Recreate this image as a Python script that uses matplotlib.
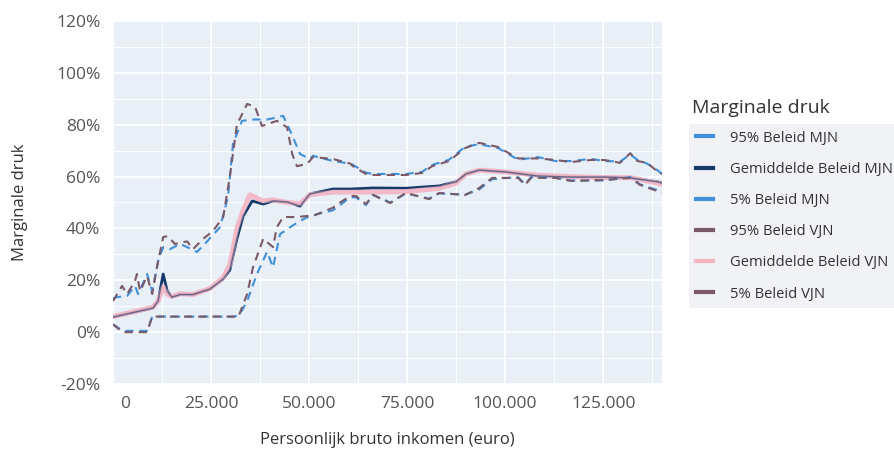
import matplotlib
matplotlib.use("Agg")
import matplotlib.pyplot as plt
import matplotlib.ticker as mticker
from matplotlib.lines import Line2D
import matplotlib.transforms as mtransforms

plt.rcParams['font.family'] = ['Open Sans', 'DejaVu Sans']

# data (income in euro, marginal pressure in %)
x_p95_vjn = [0, 2300, 3600, 5600, 6100, 6900, 8700, 10000, 11200, 12800, 14000, 15800,
             18900, 20400, 23000, 25500, 28100, 29800, 31600, 34200, 36200, 38000, 41800,
             44400, 45700, 46900, 49500, 51000, 56100, 60500, 61200, 64500, 66300, 74700,
             78800, 81400, 85700, 89800, 93400, 98200, 103300, 108400, 112800, 116800,
             121900, 125300, 129300, 131900, 133700, 136200, 138800, 140000]
y_p95_vjn = [12, 17.8, 14.7, 19.7, 22.4, 15.8, 21.6, 14.7, 25, 36.7, 37, 34,
             35, 32, 36, 39, 44.4, 60, 80, 88, 87, 79.5, 81.5,
             79, 68.7, 64, 64.9, 67.5, 66.8, 65, 64, 61, 60.6, 60.6,
             61.4, 64, 66, 71, 73, 71.4, 67, 67, 66.4, 65.6,
             66.4, 66.4, 65.3, 69, 66, 65.3, 62, 61]

x_p95_mjn = [0, 1000, 3600, 5600, 6400, 8700, 10000, 11500, 12800, 14500, 17100, 18900,
             21400, 24000, 27300, 29300, 30600, 32900, 35700, 39300, 43400, 45200, 47700,
             50200, 51000, 56100, 60500, 61200, 64500, 66300, 74700, 78800, 81400, 85700,
             89800, 93400, 98200, 103300, 108400, 112800, 116800, 121900, 125300, 129300,
             131900, 133700, 136200, 138800, 140000]
y_p95_mjn = [13, 13.5, 14, 17.8, 14.7, 22.4, 15.8, 27.4, 32.8, 32, 34, 32.8,
             30.9, 35, 40.5, 52, 72.6, 81.5, 82, 82, 83.4, 77.6, 68.7,
             66.8, 68, 66, 65, 64.5, 61.5, 61, 61, 61.8, 64.5, 66.5,
             71.5, 72.5, 71, 66.5, 67.5, 66, 66, 66.8, 66, 65.8,
             68.5, 66.5, 65, 62.5, 61]

x_mean_mjn = [0, 10200, 11500, 12800, 13800, 15000, 17100, 20400, 24700, 28100, 29800,
              31600, 33200, 35500, 38300, 40800, 44400, 47700, 50200, 56100, 60500, 66300,
              74700, 83200, 87500, 90000, 93400, 100000, 108400, 116800, 125300, 131900,
              138800, 140000]
y_mean_mjn = [5.8, 9.3, 12, 22.4, 16, 13.5, 14.5, 14.5, 16.6, 20.5, 24,
              36, 44.8, 50.6, 49.4, 50.6, 50.2, 48.6, 53.3, 55.2, 55.2, 55.6,
              55.5, 56.4, 58, 61, 62.5, 61.8, 60.2, 59.8, 59.8, 59.5,
              58, 57.5]

x_mean_vjn = [0, 10200, 11500, 12800, 14000, 15000, 17100, 20400, 24700, 28100, 29800,
              30600, 31600, 33200, 34900, 36200, 38300, 40800, 44400, 47700, 50200, 56100,
              60500, 66300, 74700, 83200, 87500, 90000, 93400, 100000, 108400, 116800,
              125300, 131900, 138800, 140000]
y_mean_vjn = [6, 9.6, 12, 17.5, 14.5, 13.8, 14.8, 14.5, 16.8, 21, 26,
              32, 40, 47, 53, 52, 50.6, 51, 50, 49.5, 53, 54,
              54, 54, 54.2, 55.5, 57.5, 61, 62.5, 61.8, 60.5, 60,
              59.6, 59.6, 57.5, 57]

x_p5_vjn = [0, 2500, 8700, 10000, 32000, 34200, 35700, 38300, 40800, 41800, 43400, 46900,
            49500, 51000, 56100, 57900, 60500, 62000, 64500, 66300, 70700, 74700, 80600,
            83200, 89800, 93400, 96700, 103300, 105100, 106600, 112800, 116800, 125300,
            131900, 134400, 138800, 140000]
y_p5_vjn = [3, 0, 0, 6, 6, 14.7, 25, 36, 32.8, 40.5, 44.4, 44.4,
            44.8, 44.8, 48, 50, 52.5, 52.5, 49.4, 52.9, 49.8, 53.7, 51.3,
            53.7, 52.9, 55.6, 59.5, 59.5, 56.8, 59.5, 59.5, 58.3, 58.7,
            59.5, 56.8, 54.4, 54]

x_p5_mjn = [0, 2500, 8700, 10000, 31000, 32400, 34200, 36700, 39300, 40800, 42600, 45200,
            47700, 50200, 56100, 60500, 62000, 64500, 66300, 70700, 74700, 80600, 83200,
            89800, 93400, 96700, 103300, 105100, 106600, 112800, 116800, 125300, 131900,
            134400, 138800, 140000]
y_p5_mjn = [3, 0.5, 0.5, 6, 6, 7, 12, 22.4, 31, 25, 37.8, 40.5,
            42.9, 44.8, 47, 52, 52, 49, 53, 50, 53.5, 51.5, 53.5,
            53, 55, 59, 59.8, 57, 59.8, 59.5, 58.5, 58.5, 59.8,
            57, 54.8, 54]

x_ticks = [0, 25000, 50000, 75000, 100000, 125000]
x_tick_labels = ['0', '25.000', '50.000', '75.000', '100.000', '125.000']
y_ticks = [-20, 0, 20, 40, 60, 80, 100, 120]

BLUE = '#3f8fdb'
NAVY = '#143a6a'
MAUVE = '#7a5a67'
PINK = '#f4b5c3'
TXT = '#555555'

fig = plt.figure(figsize=(8.95, 4.57), dpi=100)
ax = fig.add_axes([113 / 895, 1 - 384 / 457, 549 / 895, 363 / 457])
ax.set_facecolor('#e9eff7')

ax.plot(x_mean_mjn, y_mean_mjn, color=NAVY, lw=2.0, zorder=3)
ax.plot(x_mean_vjn, y_mean_vjn, color=PINK, lw=3.6, alpha=0.9, zorder=4)
ax.plot(x_mean_mjn, y_mean_mjn, color=NAVY, lw=1.0, alpha=0.6, zorder=4)

dash = (4, 2.8)
ax.plot(x_p95_mjn, y_p95_mjn, color=BLUE, lw=1.5, dashes=dash, zorder=5)
ax.plot(x_p5_mjn, y_p5_mjn, color=BLUE, lw=1.5, dashes=dash, zorder=5)
ax.plot(x_p95_vjn, y_p95_vjn, color=MAUVE, lw=1.5, dashes=dash, zorder=6)
ax.plot(x_p5_vjn, y_p5_vjn, color=MAUVE, lw=1.5, dashes=dash, zorder=6)

ax.set_xlim(0, 140000)
ax.set_ylim(-20, 120)
ax.set_xticks(x_ticks)
ax.set_xticklabels(x_tick_labels)
ax.set_yticks(y_ticks)
ax.yaxis.set_major_formatter(mticker.FuncFormatter(lambda v, p: f'{v:.0f}%'))
ax.xaxis.set_minor_locator(mticker.MultipleLocator(12500))
ax.yaxis.set_minor_locator(mticker.MultipleLocator(10))
ax.grid(True, which='major', color='white', lw=1.3)
ax.grid(True, which='minor', color='white', lw=0.7)
ax.set_axisbelow(True)
for s in ax.spines.values():
    s.set_visible(False)
ax.tick_params(which='both', length=0)
ax.tick_params(axis='both', labelsize=12.5, labelcolor=TXT)
ax.tick_params(axis='x', pad=9)
ax.tick_params(axis='y', pad=9)

# the "0" label sits a bit right of the axis edge
offset = mtransforms.ScaledTranslation(12 / 100, 0, fig.dpi_scale_trans)
ax.get_xticklabels()[0].set_transform(ax.get_xticklabels()[0].get_transform() + offset)

fig.text(387 / 895, 1 - 440 / 457, 'Persoonlijk bruto inkomen (euro)', ha='center', va='center',
         fontsize=12, color='#333333')
fig.text(20 / 895, 1 - 202 / 457, 'Marginale druk', ha='center', va='center', rotation=90,
         fontsize=12, color='#333333')

# legend
fig.text(692 / 895, 1 - 108 / 457, 'Marginale druk', ha='left', va='center', fontsize=14,
         color='#333333')
handles = [
    Line2D([], [], color=BLUE, lw=3),
    Line2D([], [], color=NAVY, lw=3),
    Line2D([], [], color=BLUE, lw=3),
    Line2D([], [], color=MAUVE, lw=3),
    Line2D([], [], color=PINK, lw=3),
    Line2D([], [], color=MAUVE, lw=3),
]
labels = ['95% Beleid MJN', 'Gemiddelde Beleid MJN', '5% Beleid MJN',
          '95% Beleid VJN', 'Gemiddelde Beleid VJN', '5% Beleid VJN']
leg = fig.legend(handles, labels, loc='upper left', bbox_to_anchor=(689 / 895, 1 - 124 / 457),
                 frameon=True, fancybox=False, facecolor='#edeff4', edgecolor='none',
                 fontsize=10.6, handlelength=1.15, handletextpad=1.2, labelspacing=1.1,
                 borderpad=0.45, borderaxespad=0)
for t in leg.get_texts():
    t.set_color('#333333')

fig.savefig('out.png', dpi=100)
